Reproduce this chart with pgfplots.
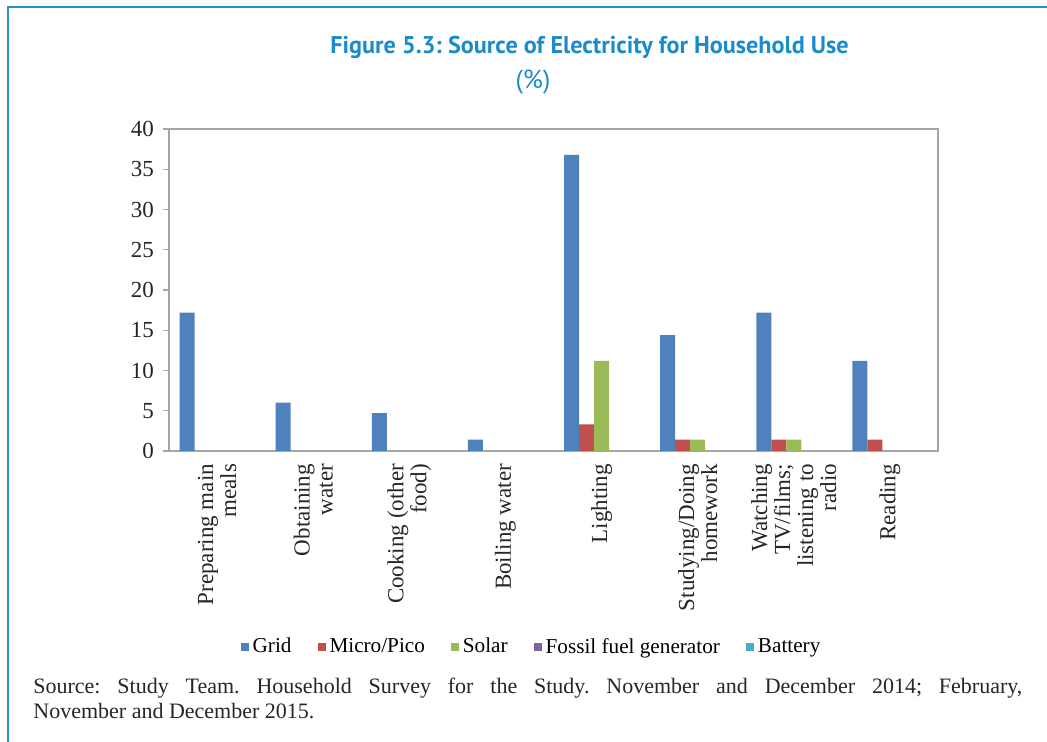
\documentclass[border=0pt]{standalone}
\usepackage{pgfplots}
\pgfplotsset{compat=1.18}
\usepackage{fontspec}
\setmainfont{Liberation Serif}
\newfontfamily\titlefont{PT Sans}
\frenchspacing

\definecolor{framec}{HTML}{2A8FC8}
\definecolor{titlec}{HTML}{1A8BCB}
\definecolor{gridc}{HTML}{4F81BD}
\definecolor{microc}{HTML}{C0504D}
\definecolor{solarc}{HTML}{9BBB59}
\definecolor{fossilc}{HTML}{8064A2}
\definecolor{batteryc}{HTML}{4BACC6}
\definecolor{axisc}{HTML}{A6A6A6}

\begin{document}
\begin{tikzpicture}
\useasboundingbox (0,0) rectangle (523.5pt,371pt);
% outer frame (top and left edges)
\draw[framec, line width=1pt] (3.75pt,0) -- (3.75pt,367.25pt) -- (523.5pt,367.25pt);

% title
\node[text=titlec, font=\titlefont\bfseries\fontsize{12.1}{14}\selectfont] at (294.75pt,347.5pt)
  {Figure 5.3: Source of Electricity for Household Use};
\node[text=titlec, font=\titlefont\fontsize{13}{15}\selectfont] at (266.5pt,330pt) {(\%)};

\begin{axis}[
  at={(84.5pt,145.5pt)}, anchor=south west,
  scale only axis, width=384.5pt, height=161pt,
  xmin=0.5, xmax=8.5, ymin=0, ymax=40,
  ytick={0,5,...,40},
  xtick={1,...,8},
  xticklabels={{Preparing main\\meals},{Obtaining\\water},{Cooking (other\\food)},{Boiling water},{Lighting},{Studying/Doing\\homework},{Watching\\TV/films;\\listening to\\radio},{Reading}},
  /pgf/number format/assume math mode=true,
  axis line style={axisc, line width=0.7pt},
  tick align=outside,
  ytick pos=left,
  major tick length=3pt,
  ytick style={axisc, line width=0.6pt},
  xtick style={draw=none},
  yticklabel style={font=\fontsize{11.5}{11.5}\selectfont, text=black!85, xshift=-1pt},
  xticklabel style={rotate=90, anchor=east, align=right,
    font=\fontsize{11.5}{11.5}\selectfont, text=black!85},
  legend columns=5,
  legend image code/.code={\fill[#1] (0pt,-2pt) rectangle (4pt,2pt);},
  legend style={draw=none, fill=none, at={(0.4727,-0.609)}, anchor=center,
    font=\fontsize{10.6}{12}\selectfont,
    /tikz/every even column/.append style={column sep=11pt}},
]
% legend entries
\addlegendimage{fill=gridc, draw=none}
\addlegendimage{fill=microc, draw=none}
\addlegendimage{fill=solarc, draw=none}
\addlegendimage{fill=fossilc, draw=none}
\addlegendimage{fill=batteryc, draw=none}

% Grid
\addplot[ybar, bar width=0.156, bar shift=-0.312, fill=gridc, draw=none, forget plot]
  coordinates {(1,17.2) (2,6.0) (3,4.7) (4,1.4) (5,36.8) (6,14.4) (7,17.2) (8,11.2)};
% Micro/Pico
\addplot[ybar, bar width=0.156, bar shift=-0.156, fill=microc, draw=none, forget plot]
  coordinates {(5,3.3) (6,1.4) (7,1.4) (8,1.4)};
% Solar
\addplot[ybar, bar width=0.156, bar shift=0, fill=solarc, draw=none, forget plot]
  coordinates {(5,11.2) (6,1.4) (7,1.4)};

\legend{Grid, Micro/Pico, Solar, Fossil fuel generator, Battery}
\end{axis}

% source note
\node[anchor=north west, inner sep=0pt, text width=494.5pt, align=justify,
  font=\fontsize{11}{12.5}\selectfont, text=black!85] at (16.5pt,32pt)
  {Source: Study Team. Household Survey for the Study. November and December 2014; February,\linebreak November and December 2015.};
\end{tikzpicture}
\end{document}
